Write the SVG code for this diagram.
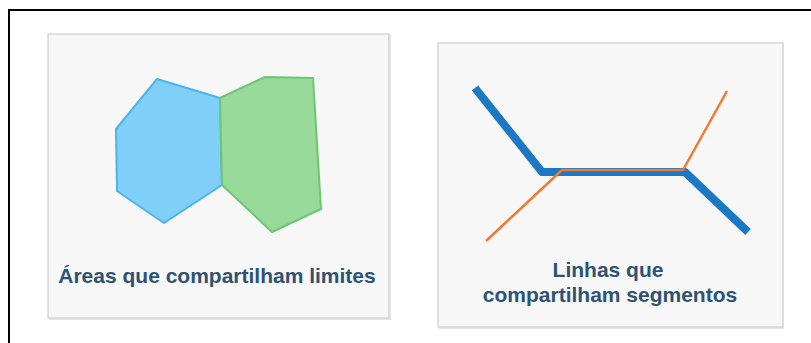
<svg xmlns="http://www.w3.org/2000/svg" width="811" height="343" viewBox="0 0 811 343">
<defs>
<style>
.panel{fill:#f7f7f7;stroke:#d6d6d6;stroke-width:1.5}
.shadow{fill:#e4e4e4}
.lbl{font-family:"Liberation Sans",Arial,sans-serif;font-weight:bold;font-size:21px;fill:#2e5272;text-anchor:middle}
</style>
</defs>
<rect width="811" height="343" fill="#ffffff"/>
<path d="M9,343 V10 H811" fill="none" stroke="#000000" stroke-width="2"/>
<g id="panel-areas">
<rect class="shadow" x="49" y="35" width="342" height="285"/>
<rect class="panel" x="48" y="34" width="341" height="284"/>
<polygon id="area-blue" points="157,79 220,98 222,185 164,223 117,191 116,129" fill="#80cff9" stroke="#4cb4ea" stroke-width="2" stroke-linejoin="round"/>
<polygon id="area-green" points="220,98 265,77 313,78 321,209 272,232 222,185" fill="#97da99" stroke="#6cc672" stroke-width="2" stroke-linejoin="round"/>
<text class="lbl" x="217" y="283">Áreas que compartilham limites</text>
</g>
<g id="panel-lines">
<rect class="shadow" x="439" y="44" width="345" height="285"/>
<rect class="panel" x="438" y="43" width="345" height="284"/>
<g id="connectors">
<polyline points="475,88 542,172 685,172 748,232" fill="none" stroke="#1b78c4" stroke-width="8" stroke-linejoin="round"/>
<polyline points="486,241 562,170 683,170 727,91" fill="none" stroke="#ee7a33" stroke-width="2.5" stroke-linejoin="round"/>
</g>
<text class="lbl" x="608" y="277">Linhas que</text>
<text class="lbl" x="610" y="302">compartilham segmentos</text>
</g>
</svg>
